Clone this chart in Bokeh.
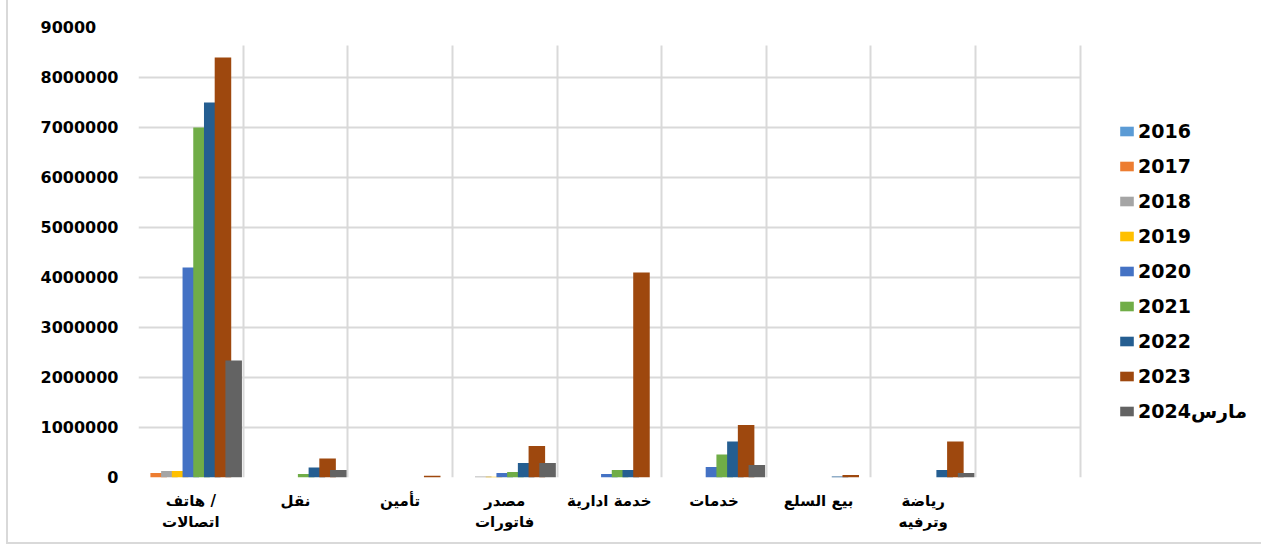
from bokeh.plotting import figure
from bokeh.models import (ColumnDataSource, FixedTicker, BasicTickFormatter, Legend,
                          LegendItem, Range1d, Grid)
from bokeh.embed import file_html
from bokeh.resources import INLINE

categories = ["\u200eهاتف /\nاتصالات", "نقل", "تأمين", "مصدر\nفاتورات", "خدمة ادارية",
              "خدمات", "بيع السلع", "رياضة\nوترفيه", ""]
series_names = ["2016", "2017", "2018", "2019", "2020", "2021", "2022", "2023", "مارس2024"]
colors = ["#5B9BD5", "#ED7D31", "#A5A5A5", "#FFC000", "#4472C4",
          "#70AD47", "#255E91", "#9E480E", "#636363"]

v2016 = [0, 0, 0, 0, 0, 0, 0, 0, 0]
v2017 = [90000, 0, 0, 0, 0, 0, 0, 0, 0]
v2018 = [130000, 0, 0, 20000, 0, 0, 0, 0, 0]
v2019 = [130000, 0, 0, 15000, 0, 0, 0, 0, 0]
v2020 = [4200000, 0, 0, 90000, 70000, 210000, 0, 0, 0]
v2021 = [7000000, 70000, 0, 110000, 150000, 460000, 0, 0, 0]
v2022 = [7500000, 200000, 0, 290000, 150000, 720000, 20000, 150000, 0]
v2023 = [8400000, 380000, 35000, 630000, 4100000, 1050000, 50000, 720000, 0]
v2024 = [2340000, 150000, 0, 290000, 0, 250000, 0, 90000, 0]
series = [v2016, v2017, v2018, v2019, v2020, v2021, v2022, v2023, v2024]

y_ticks = [0, 1000000, 2000000, 3000000, 4000000, 5000000, 6000000, 7000000, 8000000, 9000000]
# the top label is clipped in the source image
y_tick_labels = {9000000: "90000\u2007\u2007"}

FONT = "DejaVu Sans"
n_cat = len(categories)
# frame spans the plot area plus the legend area on the right (legend kept inside frame)
x_end = n_cat * 1123 / 940

p = figure(width=1255, height=544, output_backend="svg", toolbar_location=None,
           x_range=Range1d(0, x_end), y_range=Range1d(0, 9000000),
           min_border_left=130, min_border_right=0, min_border_top=27,
           min_border_bottom=67)
p.styles = {"margin-left": "6px", "border-left": "2px solid #D9D9D9",
            "border-bottom": "2px solid #D9D9D9"}
p.outline_line_color = None
p.background_fill_color = "white"
p.border_fill_color = "white"

step = 0.1024
width = 0.158
centers = [i + 0.5 for i in range(n_cat)]
renderers = []
for k, (name, vals, col) in enumerate(zip(series_names, series, colors)):
    xs = [c + (k - 4) * step for c in centers]
    src = ColumnDataSource(dict(x=xs, top=vals))
    r = p.vbar(x="x", top="top", width=width, bottom=0, source=src,
               fill_color=col, line_color=None)
    renderers.append((name, r))

# axes
p.xaxis.ticker = FixedTicker(ticks=centers)
p.xaxis.major_label_overrides = {c: lab for c, lab in zip(centers, categories)}
p.xaxis.major_tick_line_color = None
p.xaxis.minor_tick_line_color = None
p.xaxis.axis_line_color = None
p.xaxis.major_label_text_font = FONT
p.xaxis.major_label_text_font_style = "bold"
p.xaxis.major_label_text_font_size = "15px"
p.xaxis.major_label_text_color = "#000000"
p.xaxis.major_label_standoff = 8

p.yaxis.ticker = FixedTicker(ticks=y_ticks)
p.yaxis.formatter = BasicTickFormatter(use_scientific=False)
p.yaxis.major_label_overrides = y_tick_labels
p.yaxis.major_tick_line_color = None
p.yaxis.minor_tick_line_color = None
p.yaxis.axis_line_color = None
p.yaxis.major_label_text_font = FONT
p.yaxis.major_label_text_font_style = "bold"
p.yaxis.major_label_text_font_size = "16px"
p.yaxis.major_label_text_color = "#000000"
p.yaxis.major_label_standoff = 14

# grids
p.xgrid.visible = False
p.ygrid.grid_line_color = "#D9D9D9"
p.ygrid.grid_line_width = 2
p.ygrid.ticker = FixedTicker(ticks=y_ticks[:-1])
p.ygrid.cross_bounds = (0, n_cat)
vgrid = Grid(dimension=0, ticker=FixedTicker(ticks=list(range(n_cat + 1))),
             grid_line_color="#D9D9D9", grid_line_width=2, cross_bounds=(0, 8650000))
p.add_layout(vgrid)

legend = Legend(items=[LegendItem(label=n, renderers=[r]) for n, r in renderers],
                location=(980, 55), orientation="vertical",
                glyph_width=17, glyph_height=12, label_height=22, spacing=13,
                label_standoff=3, padding=0, margin=0,
                border_line_color=None, background_fill_alpha=0,
                label_text_font=FONT, label_text_font_style="bold",
                label_text_font_size="19px", label_text_color="#000000")
p.add_layout(legend)

open("out.html", "w").write(file_html(p, INLINE))
